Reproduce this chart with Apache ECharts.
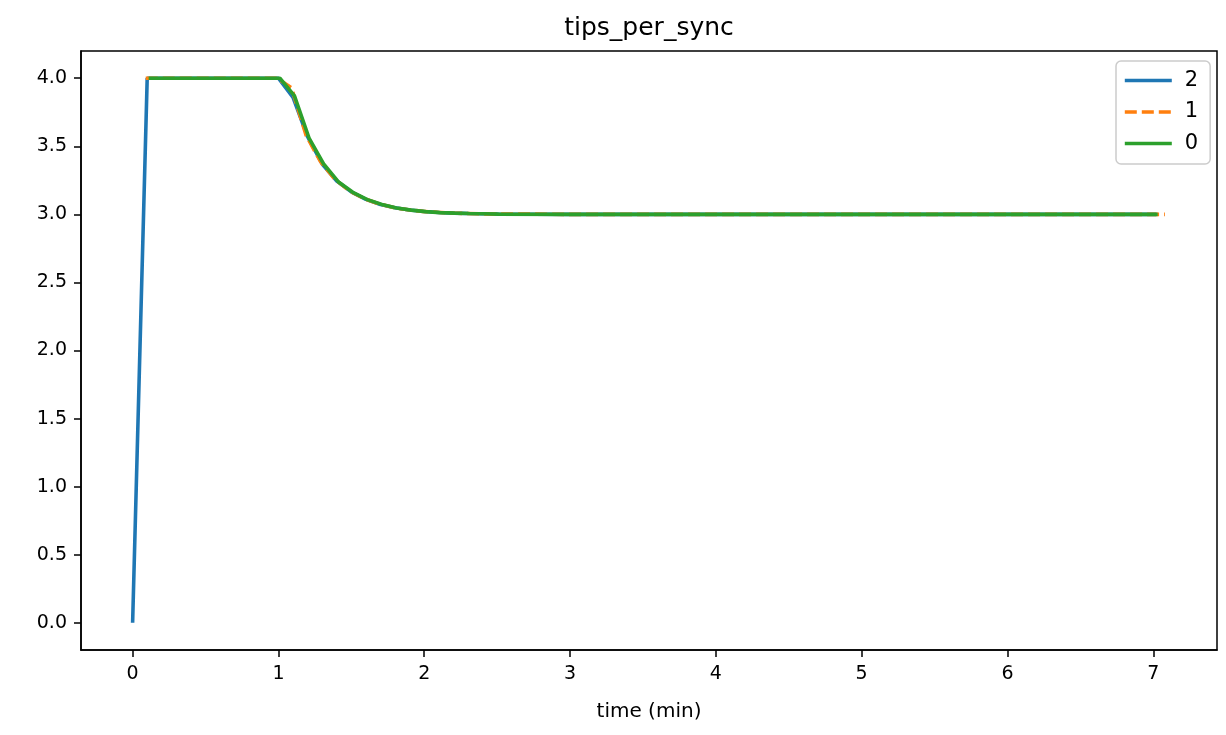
<!DOCTYPE html>
<html>
<head>
<meta charset="utf-8">
<script src="https://cdn.jsdelivr.net/npm/echarts@6/dist/echarts.min.js"></script>
<style>
html,body{margin:0;padding:0;background:#fff;}
#chart{width:1226px;height:735px;}
</style>
</head>
<body>
<div id="chart"></div>
<script>
// ---- data ----
const seriesNames = ['2', '1', '0'];
const xTicks = [0, 1, 2, 3, 4, 5, 6, 7];
const yTicks = [0, 0.5, 1.0, 1.5, 2.0, 2.5, 3.0, 3.5, 4.0];

const times2 = [0, 0.1, 0.2, 0.3, 0.4, 0.5, 0.6, 0.7, 0.8, 0.9, 1.0, 1.1, 1.2, 1.3, 1.4, 1.5, 1.6, 1.7, 1.8, 1.9, 2.0, 2.1, 2.2, 2.3, 2.4, 2.5, 3.0, 3.5, 4.0, 4.5, 5.0, 5.5, 6.0, 6.5, 7.02];
const vals2  = [0, 4, 4, 4, 4, 4, 4, 4, 4, 4, 4, 3.86, 3.57, 3.37, 3.245, 3.165, 3.11, 3.073, 3.048, 3.032, 3.021, 3.014, 3.009, 3.006, 3.004, 3.003, 3, 3, 3, 3, 3, 3, 3, 3, 3];

const times1 = [0.09, 0.19, 0.29, 0.39, 0.49, 0.59, 0.69, 0.79, 0.89, 0.99, 1.09, 1.19, 1.29, 1.39, 1.49, 1.59, 1.69, 1.79, 1.89, 1.99, 2.09, 2.19, 2.29, 2.39, 2.49, 3.0, 3.5, 4.0, 4.5, 5.0, 5.5, 6.0, 6.5, 7.08];
const vals1  = [4, 4, 4, 4, 4, 4, 4, 4, 4, 4, 3.93, 3.58, 3.385, 3.255, 3.17, 3.115, 3.077, 3.05, 3.034, 3.022, 3.015, 3.01, 3.006, 3.004, 3.003, 3, 3, 3, 3, 3, 3, 3, 3, 3];

const times0 = [0.11, 0.21, 0.31, 0.41, 0.51, 0.61, 0.71, 0.81, 0.91, 1.01, 1.11, 1.21, 1.31, 1.41, 1.51, 1.61, 1.71, 1.81, 1.91, 2.01, 2.11, 2.21, 2.31, 2.41, 2.51, 3.0, 3.5, 4.0, 4.5, 5.0, 5.5, 6.0, 6.5, 7.03];
const vals0  = [4, 4, 4, 4, 4, 4, 4, 4, 4, 4, 3.87, 3.56, 3.37, 3.24, 3.162, 3.108, 3.072, 3.047, 3.031, 3.02, 3.013, 3.009, 3.006, 3.004, 3.002, 3, 3, 3, 3, 3, 3, 3, 3, 3];

// ---- chart ----
const FONT = 'DejaVu Sans';
const pair = (t, v) => t.map((x, i) => [x, v[i]]);
const chart = echarts.init(document.getElementById('chart'), null, {renderer: 'canvas'});

const option = {
  animation: false,
  backgroundColor: '#fff',
  graphic: [{
    type: 'text', x: 649, y: 28, z: 100,
    style: {text: 'tips_per_sync', fontSize: 25, fontFamily: FONT, fill: '#000',
            align: 'center', verticalAlign: 'middle', textAlign: 'center', textVerticalAlign: 'middle'}
  }],
  grid: {left: 81, right: 9, top: 51, bottom: 85, show: true, borderColor: '#000', borderWidth: 1.5, backgroundColor: 'transparent'},
  legend: {
    data: seriesNames, orient: 'vertical', left: 1116, top: 61,
    padding: [9, 12, 10, 7], itemWidth: 47, itemHeight: 21, itemGap: 10.5,
    backgroundColor: '#fff', borderColor: '#cccccc', borderWidth: 1.5, borderRadius: 5,
    itemStyle: {opacity: 0, borderWidth: 0},
    lineStyle: {width: 3.6},
    textStyle: {fontSize: 21, fontFamily: FONT, color: '#000', padding: [0, 0, 0, 8]}
  },
  xAxis: {
    type: 'value', min: -0.354, max: 7.437,
    name: 'time (min)', nameLocation: 'middle', nameGap: 52,
    nameTextStyle: {fontSize: 20, fontFamily: FONT, color: '#000'},
    axisLine: {show: true, onZero: false, lineStyle: {color: '#000', width: 1.5}},
    axisTick: {show: true, length: 7, customValues: xTicks, lineStyle: {color: '#000', width: 1.5}},
    axisLabel: {customValues: xTicks, margin: 15, fontSize: 19, fontFamily: FONT, color: '#000',
                formatter: v => String(v)},
    splitLine: {show: false}
  },
  yAxis: {
    type: 'value', min: -0.2, max: 4.2,
    axisLine: {show: true, onZero: false, lineStyle: {color: '#000', width: 1.5}},
    axisTick: {show: true, length: 7, customValues: yTicks, lineStyle: {color: '#000', width: 1.5}},
    axisLabel: {customValues: yTicks, margin: 14, fontSize: 19, fontFamily: FONT, color: '#000',
                formatter: v => Number(v).toFixed(1)},
    splitLine: {show: false}
  },
  series: [
    {name: '2', type: 'line', data: pair(times2, vals2), symbol: 'none', z: 2,
     lineStyle: {color: '#1f77b4', width: 3.6}, itemStyle: {color: '#1f77b4'}},
    {name: '1', type: 'line', data: pair(times1, vals1), symbol: 'none', z: 3,
     lineStyle: {color: '#ff7f0e', width: 3.6, type: [12, 5]}, itemStyle: {color: '#ff7f0e'}},
    {name: '0', type: 'line', data: pair(times0, vals0), symbol: 'none', z: 4,
     lineStyle: {color: '#2ca02c', width: 3.6}, itemStyle: {color: '#2ca02c'}}
  ]
};
chart.setOption(option);
</script>
</body>
</html>
